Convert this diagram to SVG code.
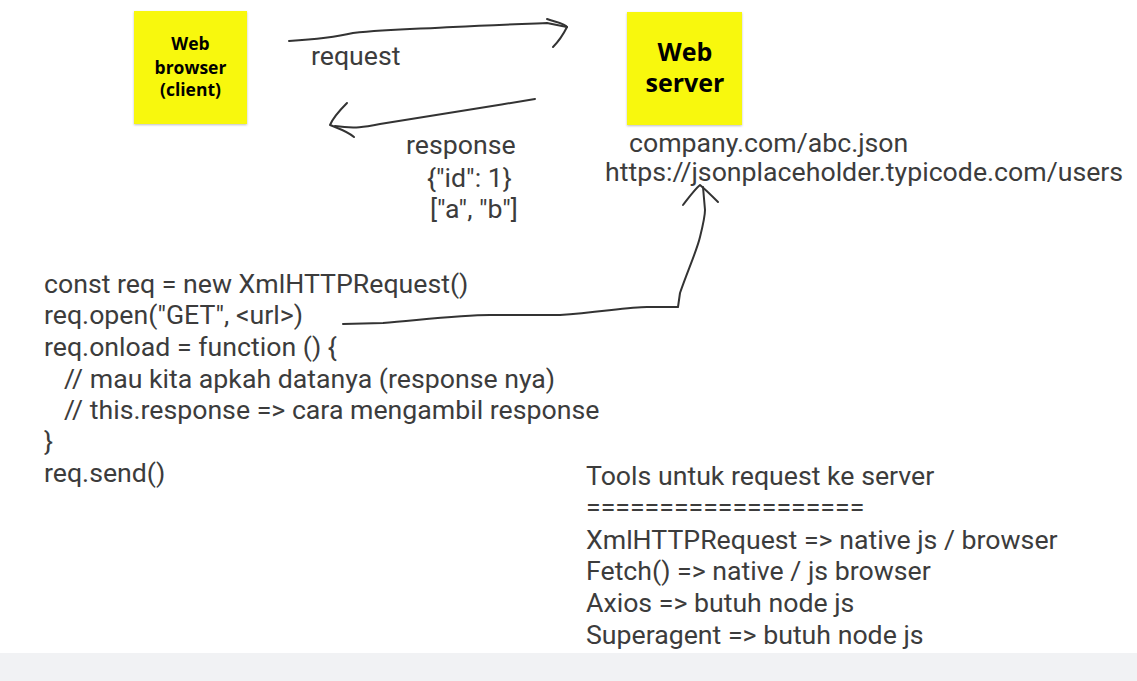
<svg xmlns="http://www.w3.org/2000/svg" width="1137" height="681" viewBox="0 0 1137 681">
<style>
.t{font-family:Roboto,"Liberation Sans",sans-serif;font-size:26.7px;fill:#3c3c3c}
.s{font-family:"Open Sans","Liberation Sans",sans-serif;font-weight:bold;fill:#000;text-anchor:middle}
.c{fill:none;stroke:#333;stroke-width:2;stroke-linecap:round;stroke-linejoin:round}
.n{fill:#f8f80c}
</style>
<defs>
<filter id="sh" x="-10%" y="-10%" width="120%" height="125%"><feDropShadow dx="0" dy="1" stdDeviation="1" flood-color="#000" flood-opacity="0.25"/></filter>
</defs>
<rect x="0" y="0" width="1137" height="681" fill="#fff"/>
<rect x="0" y="653" width="1137" height="28" fill="#f1f2f4"/>
<g id="browser">
<rect class="n" x="134" y="11" width="113" height="113" filter="url(#sh)"/>
<text class="s" font-size="17.5" x="190.5" y="50">Web</text>
<text class="s" font-size="17.5" x="190.5" y="74">browser</text>
<text class="s" font-size="17.5" x="190.5" y="96">(client)</text>
</g>
<g id="server">
<rect class="n" x="627" y="12" width="115" height="113" filter="url(#sh)"/>
<text class="s" font-size="25" x="685" y="61">Web</text>
<text class="s" font-size="25" x="685" y="92">server</text>
</g>
<g id="connectors">
<path class="c" d="M289,41 C320,39 340,36 353,33 C390,29 420,29 453,27 C490,25 520,24 547,23 L567,27"/>
<path class="c" d="M547,19 C556,22 566,24 567,27 C563,35 558,42 553,47"/>
<path class="c" d="M535,99 C480,108 420,118 380,124 C365,127 355,129 335,126"/>
<path class="c" d="M347,103 C340,110 333,118 330,125 C337,128 347,131 354,137"/>
<path class="c" d="M343,324 L383,323 C420,320 460,315 490,315 L560,315 C600,312 630,307 647,307 L678,307 L680,293 C688,270 697,250 700,237 C703,225 705,215 705,210 L703,187"/>
<path class="c" d="M683,205 C690,196 695,189 700,185 C706,190 712,196 718,202"/>
</g>
<g id="labels">
<text class="t" x="311" y="65">request</text>
<text class="t" x="406" y="154">response</text>
<text class="t" x="427" y="187">{"id": 1}</text>
<text class="t" x="430" y="218">["a", "b"]</text>
<text class="t" x="629" y="152">company.com/abc.json</text>
<text class="t" x="605" y="181">https://jsonplaceholder.typicode.com/users</text>
<text class="t" x="44" y="293">const req = new XmlHTTPRequest()</text>
<text class="t" x="44" y="324">req.open("GET", &lt;url&gt;)</text>
<text class="t" x="44" y="356">req.onload = function () {</text>
<text class="t" x="64" y="388">// mau kita apkah datanya (response nya)</text>
<text class="t" x="64" y="419">// this.response =&gt; cara mengambil response</text>
<text class="t" x="44" y="450">}</text>
<text class="t" x="44" y="482">req.send()</text>
<text class="t" x="586" y="485">Tools untuk request ke server</text>
<text class="t" x="586" y="516">===================</text>
<text class="t" x="586" y="549">XmlHTTPRequest =&gt; native js / browser</text>
<text class="t" x="586" y="580">Fetch() =&gt; native / js browser</text>
<text class="t" x="586" y="612">Axios =&gt; butuh node js</text>
<text class="t" x="586" y="644">Superagent =&gt; butuh node js</text>
</g>
</svg>
